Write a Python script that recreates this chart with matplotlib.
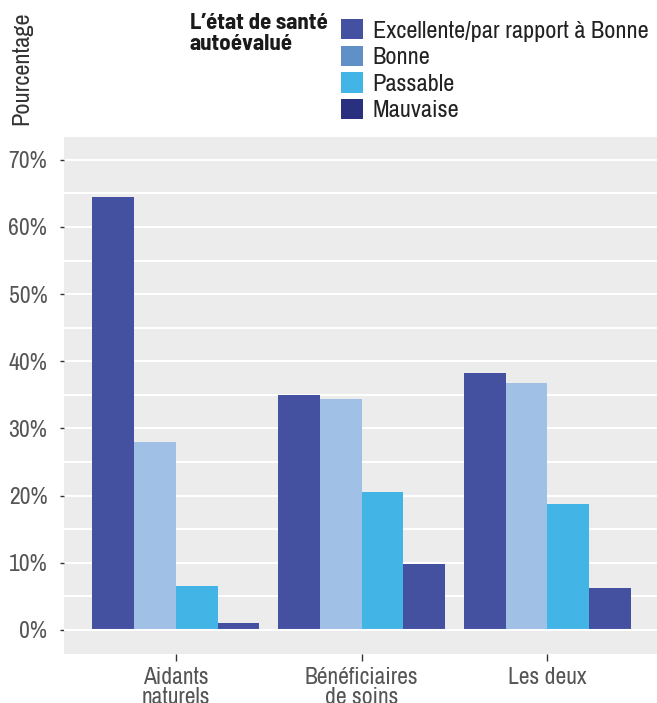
import matplotlib
matplotlib.use("Agg")
import matplotlib.pyplot as plt
from matplotlib.patches import Patch
import numpy as np

plt.rcParams['font.family'] = ['Archivo Narrow', 'Liberation Sans', 'DejaVu Sans']
BOLD_FAM = ['Barlow Semi Condensed', 'Liberation Sans', 'DejaVu Sans']

categories = ["Aidants\nnaturels", "Bénéficiaires\nde soins", "Les deux"]
series = ["Excellente/par rapport à Bonne", "Bonne", "Passable", "Mauvaise"]
excellente = [64.5, 35.0, 38.3]
bonne = [28.0, 34.4, 36.7]
passable = [6.5, 20.6, 18.8]
mauvaise = [1.0, 9.8, 6.2]
values = [excellente, bonne, passable, mauvaise]
bar_colors = ["#4450a0", "#a0c0e6", "#42b4e6", "#4450a0"]
legend_colors = ["#4450a0", "#6090c8", "#42b4e6", "#2a3080"]
yticks = [0, 10, 20, 30, 40, 50, 60, 70]

W, H = 657, 703
fig = plt.figure(figsize=(W/100, H/100), dpi=100)
ax = fig.add_axes([64/W, 1-654/H, (657-64)/W, (654-137)/H])
ax.set_facecolor("#ebeceb")
x = np.arange(len(categories))
bw = 0.2245
for i, (vals, c) in enumerate(zip(values, bar_colors)):
    ax.bar(x + (i-1.5)*bw, vals, width=bw, color=c, zorder=3)
ax.set_xlim(-0.602, 2.59)
ax.set_ylim(-3.6, 73.4)
ax.set_yticks(yticks)
ax.set_yticklabels([f"{v}%" for v in yticks])
for v in np.arange(5, 75, 5):
    ax.axhline(v, color="white", lw=1.5, zorder=1)
ax.axhline(0, color="white", lw=1.5, zorder=4)
for s in ax.spines.values():
    s.set_visible(False)
ax.set_xticks(x)
ax.set_xticklabels(categories, linespacing=1.0)
ax.tick_params(axis='y', length=3, width=1, color="#333333", labelsize=17, labelcolor="#555555", pad=9)
ax.tick_params(axis='x', length=5, width=1, color="#333333", labelsize=17, labelcolor="#555555", pad=4)

fig.text(22/W, 1-68/H, "Pourcentage", rotation=90, ha="center", va="center", fontsize=17.5, color="#333333")
fig.text(190/W, 1-13/H, "L\u2019état de santé\nautoévalué", ha="left", va="top", fontsize=16.5,
         fontweight="bold", family=BOLD_FAM, color="#1a1a1a", linespacing=1.08)
handles = [Patch(facecolor=c, edgecolor="none") for c in legend_colors]
fig.legend(handles, series, loc="upper left", bbox_to_anchor=(341/W, 1-19/H), frameon=False,
           fontsize=17.5, handlelength=0.92, handleheight=0.92, handletextpad=0.38, labelspacing=0.16,
           borderpad=0, borderaxespad=0, labelcolor="#222222")

fig.savefig("out.png", dpi=100)
